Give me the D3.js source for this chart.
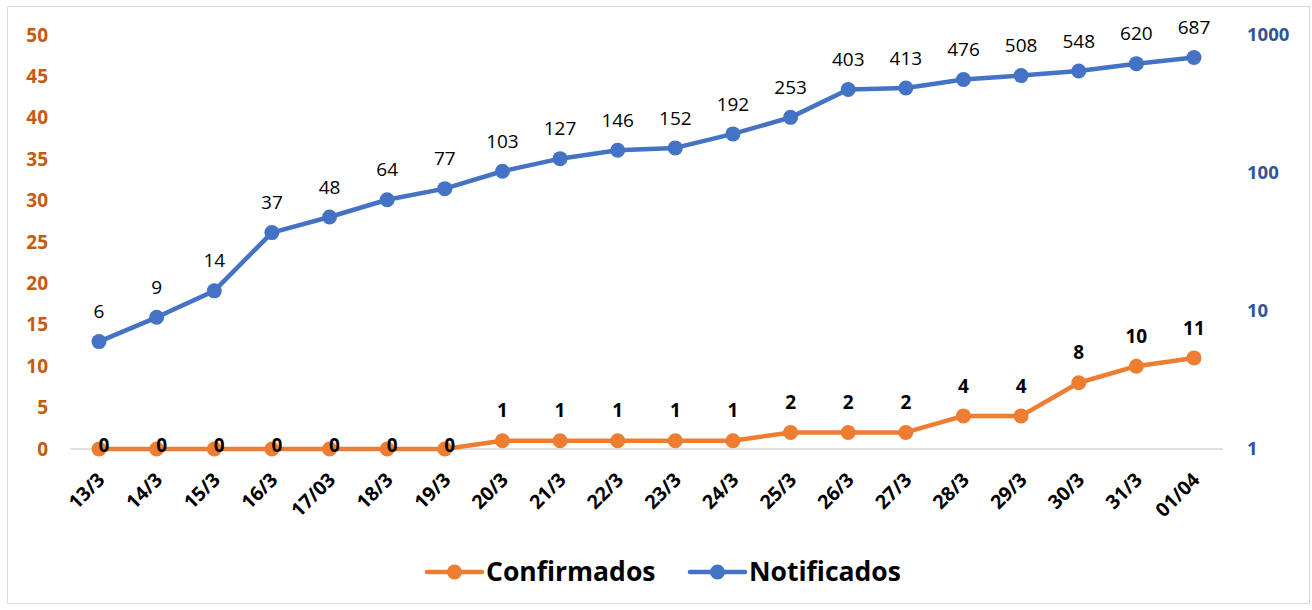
<!DOCTYPE html>
<head>
  <meta charset="utf-8">
  <script src="https://d3js.org/d3.v7.min.js"></script>
  <style>
    body { margin: 0; background: #fff; }
    text { font-family: "Open Sans", "Noto Sans", sans-serif; }
  </style>
</head>
<body>
  <script>
    // data
    var dates = ["13/3", "14/3", "15/3", "16/3", "17/03", "18/3", "19/3", "20/3", "21/3", "22/3",
      "23/3", "24/3", "25/3", "26/3", "27/3", "28/3", "29/3", "30/3", "31/3", "01/04"];
    var confirmados = [0, 0, 0, 0, 0, 0, 0, 1, 1, 1, 1, 1, 2, 2, 2, 4, 4, 8, 10, 11];
    var notificados = [6, 9, 14, 37, 48, 64, 77, 103, 127, 146, 152, 192, 253, 403, 413, 476, 508, 548, 620, 687];
    var leftTicks = [0, 5, 10, 15, 20, 25, 30, 35, 40, 45, 50];
    var rightTicks = [1, 10, 100, 1000];
    var seriesNames = ["Confirmados", "Notificados"];

    var outerWidth = 1312, outerHeight = 610;
    var orange = "#ED7D31", blue = "#4472C4";

    var svg = d3.select("body").append("svg")
      .attr("width", outerWidth)
      .attr("height", outerHeight);

    // chart frame
    svg.append("rect")
      .attr("x", 7.5).attr("y", 6.5)
      .attr("width", 1302).attr("height", 597)
      .attr("fill", "#fff")
      .attr("stroke", "#d9d9d9");

    var xScale = d3.scaleBand().domain(dates).range([70.2, 1222.8]);
    var yLeft = d3.scaleLinear().domain([0, 50]).range([449, 35]);
    var yRight = d3.scaleLog().domain([1, 1000]).range([449, 35]);

    function cx(d, i) { return xScale(dates[i]) + xScale.bandwidth() / 2; }

    // base line
    svg.append("line")
      .attr("x1", 70.2).attr("x2", 1222.8)
      .attr("y1", yLeft(0)).attr("y2", yLeft(0))
      .attr("stroke", "#d9d9d9").attr("stroke-width", 1.5);

    // left axis
    var leftAxis = svg.append("g")
      .attr("transform", "translate(48,0)")
      .call(d3.axisLeft(yLeft).tickValues(leftTicks).tickSize(0).tickPadding(0));
    leftAxis.select(".domain").remove();
    leftAxis.selectAll("text")
      .attr("fill", "#C55A11")
      .style("font-size", "19px")
      .style("font-weight", "bold");

    // right axis
    var rightAxis = svg.append("g")
      .attr("transform", "translate(1247,0)")
      .call(d3.axisRight(yRight).tickValues(rightTicks).tickFormat(d3.format("d")).tickSize(0).tickPadding(0));
    rightAxis.select(".domain").remove();
    rightAxis.selectAll("text")
      .attr("fill", "#2F5597")
      .style("font-size", "18.5px")
      .style("font-weight", "bold");

    // x labels
    svg.append("g").selectAll("text")
      .data(dates)
      .enter().append("text")
      .attr("transform", function(d, i) { return "translate(" + (cx(d, i) + 7) + ",481) rotate(-45)"; })
      .attr("text-anchor", "end")
      .style("font-size", "19.5px")
      .style("font-weight", "bold")
      .attr("fill", "#000")
      .text(function(d) { return d; });

    // notificados line
    var lineN = d3.line()
      .x(function(d, i) { return cx(d, i); })
      .y(function(d) { return yRight(d); });
    svg.append("path")
      .datum(notificados)
      .attr("d", lineN)
      .attr("fill", "none")
      .attr("stroke", blue)
      .attr("stroke-width", 4.5)
      .attr("stroke-linejoin", "round");
    svg.append("g").selectAll("circle")
      .data(notificados)
      .enter().append("circle")
      .attr("cx", cx)
      .attr("cy", function(d) { return yRight(d); })
      .attr("r", 7.5)
      .attr("fill", blue);
    svg.append("g").selectAll("text")
      .data(notificados)
      .enter().append("text")
      .attr("x", cx)
      .attr("y", function(d) { return yRight(d) - 30; })
      .attr("dy", "0.35em")
      .attr("text-anchor", "middle")
      .style("font-size", "19px")
      .attr("fill", "#000")
      .text(function(d) { return d; });

    // confirmados line
    var lineC = d3.line()
      .x(function(d, i) { return cx(d, i); })
      .y(function(d) { return yLeft(d); });
    svg.append("path")
      .datum(confirmados)
      .attr("d", lineC)
      .attr("fill", "none")
      .attr("stroke", orange)
      .attr("stroke-width", 4.5)
      .attr("stroke-linejoin", "round");
    svg.append("g").selectAll("circle")
      .data(confirmados)
      .enter().append("circle")
      .attr("cx", cx)
      .attr("cy", function(d) { return yLeft(d); })
      .attr("r", 7.5)
      .attr("fill", orange);
    svg.append("g").selectAll("text")
      .data(confirmados)
      .enter().append("text")
      .attr("x", function(d, i) { return cx(d, i) + (d === 0 ? 5 : 0); })
      .attr("y", function(d) { return d === 0 ? yLeft(d) - 4 : yLeft(d) - 30; })
      .attr("dy", "0.35em")
      .attr("text-anchor", "middle")
      .style("font-size", "19px")
      .style("font-weight", "bold")
      .attr("fill", "#000")
      .text(function(d) { return d; });

    // legend
    var legend = svg.append("g").attr("transform", "translate(0,572)");
    var legendX = [427, 690];
    var legendColors = [orange, blue];
    seriesNames.forEach(function(name, i) {
      var g = legend.append("g").attr("transform", "translate(" + legendX[i] + ",0)");
      g.append("line")
        .attr("x1", 0).attr("x2", 55)
        .attr("stroke", legendColors[i])
        .attr("stroke-width", 4.5)
        .attr("stroke-linecap", "round");
      g.append("circle").attr("cx", 27.5).attr("r", 7.5).attr("fill", legendColors[i]);
      g.append("text")
        .attr("x", 59)
        .attr("dy", "0.35em")
        .style("font-size", "26.5px")
        .style("font-weight", "bold")
        .attr("fill", "#000")
        .text(name);
    });
  </script>
</body>
